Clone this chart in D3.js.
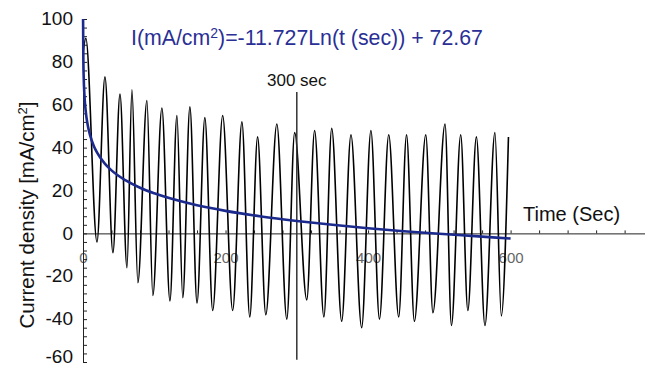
<!DOCTYPE html>
<html>
<head>
<meta charset="utf-8">
<script src="https://cdn.jsdelivr.net/npm/d3@7"></script>
<style>
	body { margin: 0; background: #fff; }
	svg { display: block; font-family: "Liberation Sans", Arial, sans-serif; }
</style>
</head>
<body>
<div id="chart"></div>
<script>
// current oscillation: alternating extremes
const waveTime = [0, 4, 19.6, 30.8, 42, 51.9, 61.7, 68.7, 77, 89.7, 98, 110.7, 122, 131.8, 140, 150, 160, 171, 182, 196,
	210, 223, 234, 245, 256.5, 272, 286, 297, 314, 325, 338, 349, 363, 376, 391, 404, 416, 429, 443, 454,
	465, 481, 491, 508, 517, 530, 540, 552, 564, 578, 587, 597]
const waveValue = [84, 91, -4, 73, -9, 65, -16, 67, -23, 62, -29, 58.5, -31.5, 55, -30, 59, -32.5, 54, -36, 55,
	-36, 52, -39, 45, -38, 51, -40, 47, -31, 48, -39, 49, -41, 46, -44, 48, -40, 46, -39, 46,
	-41, 46, -37, 51, -43, 46, -36, 45, -43, 47, -38.5, 45]

// logarithmic fit (blue)
const fitTime = [0.1, 0.5, 1, 2, 3, 5, 7, 10, 15, 20, 30, 40, 60, 80, 100, 150, 200, 250, 300, 350, 400, 450, 500, 550, 600]
const fitValue = [100, 80.8, 72.7, 64.5, 59.8, 53.8, 49.9, 45.7, 40.9, 37.5, 32.8, 29.4, 24.7, 21.3, 18.7, 13.9,
	10.5, 7.9, 5.8, 4.0, 2.4, 1.0, -0.2, -1.3, -2.4]

const xTickLabels = [0, 200, 400, 600]
const yTickLabels = [-60, -40, -20, 0, 20, 40, 60, 80, 100]
const markerTime = 300
const markerRange = [-59, 66]

const dimensions = { width: 645, height: 367 }
const margin = { top: 19, right: 0, bottom: 5, left: 83 }

const x = d3.scaleLinear()
	.domain([0, 790])
	.range([margin.left, dimensions.width + 1])

const y = d3.scaleLinear()
	.domain([-60, 100])
	.range([dimensions.height - margin.bottom, margin.top])

const svg = d3.select('#chart')
	.append('svg')
		.attr('width', dimensions.width)
		.attr('height', dimensions.height)

const gx = svg.append('g')
		.attr('transform', `translate(0,${y(0)})`)
		.call(d3.axisBottom(x)
			.tickValues(d3.range(0, 790, 40))
			.tickSizeInner(-3)
			.tickSizeOuter(0)
			.tickPadding(19)
			.tickFormat(d => xTickLabels.includes(d) ? String(d) : ''))

gx.select('.domain').attr('stroke', '#222')
gx.selectAll('.tick line').attr('stroke', '#222')
gx.selectAll('.tick text')
		.attr('fill', '#666')
		.style('font-size', '15px')

const gy = svg.append('g')
		.attr('transform', `translate(${margin.left},0)`)
		.call(d3.axisLeft(y)
			.tickValues(d3.range(-60, 101, 4))
			.tickSizeInner(-4)
			.tickSizeOuter(0)
			.tickPadding(10)
			.tickFormat(d => yTickLabels.includes(d) ? String(d) : ''))

gy.select('.domain').attr('stroke', '#222')
gy.selectAll('.tick line').attr('stroke', '#222')
gy.selectAll('.tick text')
		.attr('fill', '#111')
		.attr('dy', d => d === -60 ? '0.02em' : '0.3em')
		.style('font-size', '19px')

const wave = waveTime.map((t, i) => [t, waveValue[i]])
const fit = fitTime.map((t, i) => [t, fitValue[i]])

const line = d3.line()
	.x(d => x(d[0]))
	.y(d => y(d[1]))
	.curve(d3.curveMonotoneX)

svg.append('path')
		.datum(wave)
		.attr('fill', 'none')
		.attr('stroke', '#000')
		.attr('stroke-width', 1.6)
		.attr('d', line)

svg.append('line')
		.attr('x1', x(markerTime))
		.attr('x2', x(markerTime))
		.attr('y1', y(markerRange[1]))
		.attr('y2', y(markerRange[0]))
		.attr('stroke', '#333')
		.attr('stroke-width', 1.5)

svg.append('path')
		.datum(fit)
		.attr('fill', 'none')
		.attr('stroke', '#1b2a8c')
		.attr('stroke-width', 2.6)
		.attr('d', line)

svg.append('text')
		.attr('x', x(markerTime))
		.attr('y', 86)
		.attr('text-anchor', 'middle')
		.attr('fill', '#111')
		.style('font-size', '17px')
		.text(`${markerTime} sec`)

svg.append('text')
		.attr('x', 523)
		.attr('y', 221)
		.attr('fill', '#111')
		.style('font-size', '20px')
		.text('Time (Sec)')

const title = svg.append('text')
		.attr('x', 131)
		.attr('y', 45)
		.attr('fill', '#2a2f96')
		.style('font-size', '21.3px')
title.append('tspan').text('I(mA/cm')
title.append('tspan').attr('dy', -7).style('font-size', '14px').text('2')
title.append('tspan').attr('dy', 7).text(')=-11.727Ln(t (sec)) + 72.67')

const yTitle = svg.append('text')
		.attr('transform', 'translate(34,215) rotate(-90)')
		.attr('text-anchor', 'middle')
		.attr('fill', '#111')
		.style('font-size', '20.5px')
yTitle.append('tspan').text('Current density [mA/cm')
yTitle.append('tspan').attr('dy', -7).style('font-size', '13px').text('2')
yTitle.append('tspan').attr('dy', 7).text(']')
</script>
</body>
</html>
